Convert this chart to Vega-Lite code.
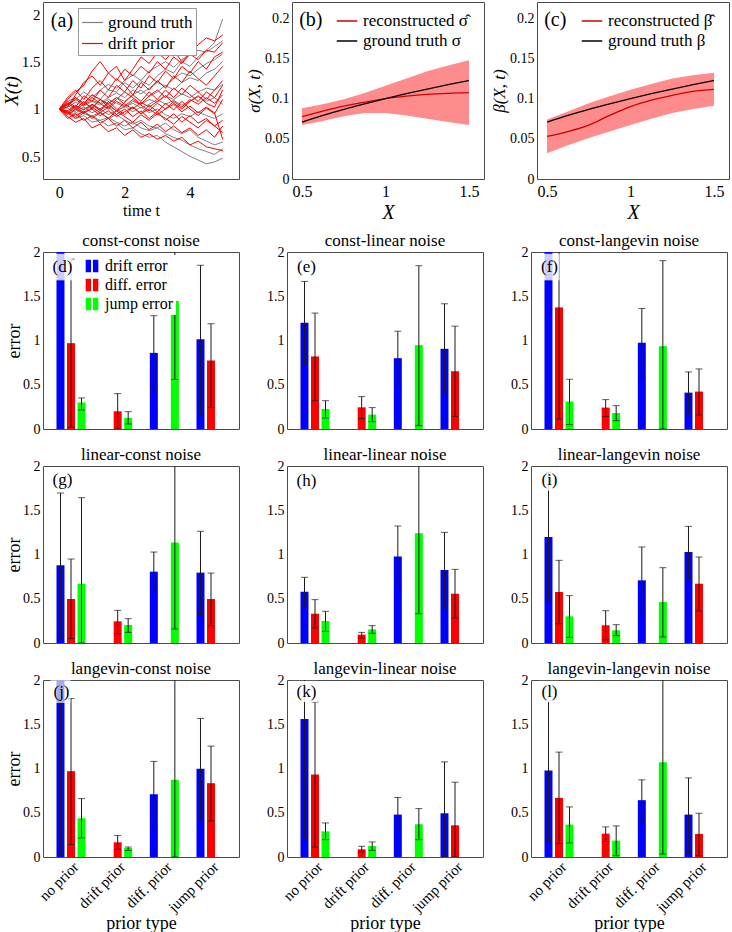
{
"$schema": "https://vega.github.io/schema/vega-lite/v6.json",
"padding": {"left": 1, "top": 1, "right": 0, "bottom": 0},
"datasets": {
"traj_gt": [
{"t":0,"g1":1,"g2":1,"g3":1,"g4":1,"g5":1,"g6":1,"g7":1,"g8":1,"g9":1,"g10":1},
{"t":0.25,"g1":1.08,"g2":0.96,"g3":1.04,"g4":0.97,"g5":1.05,"g6":0.95,"g7":1.02,"g8":0.98,"g9":1.06,"g10":1.01},
{"t":0.5,"g1":1.12,"g2":0.9,"g3":0.98,"g4":1.02,"g5":1.1,"g6":0.98,"g7":1.07,"g8":0.94,"g9":1.01,"g10":0.96},
{"t":0.75,"g1":1.05,"g2":0.93,"g3":1.06,"g4":0.95,"g5":1.18,"g6":1.02,"g7":1.03,"g8":0.97,"g9":1.04,"g10":1.0},
{"t":1,"g1":1.15,"g2":0.86,"g3":1.02,"g4":0.92,"g5":1.12,"g6":0.96,"g7":1.08,"g8":0.92,"g9":1.09,"g10":1.04},
{"t":1.25,"g1":1.1,"g2":0.88,"g3":1.1,"g4":0.97,"g5":1.2,"g6":1.0,"g7":1.04,"g8":0.88,"g9":1.06,"g10":0.99},
{"t":1.5,"g1":1.2,"g2":0.82,"g3":1.05,"g4":0.9,"g5":1.26,"g6":0.94,"g7":1.1,"g8":0.91,"g9":1.12,"g10":1.03},
{"t":1.75,"g1":1.18,"g2":0.85,"g3":1.12,"g4":0.94,"g5":1.22,"g6":0.98,"g7":1.06,"g8":0.86,"g9":1.17,"g10":0.98},
{"t":2,"g1":1.28,"g2":0.78,"g3":1.08,"g4":0.88,"g5":1.3,"g6":1.03,"g7":1.02,"g8":0.82,"g9":1.12,"g10":1.02},
{"t":2.25,"g1":1.22,"g2":0.8,"g3":1.15,"g4":0.84,"g5":1.36,"g6":0.97,"g7":1.08,"g8":0.86,"g9":1.2,"g10":1.06},
{"t":2.5,"g1":1.3,"g2":0.74,"g3":1.2,"g4":0.88,"g5":1.3,"g6":1.02,"g7":1.05,"g8":0.8,"g9":1.16,"g10":1.01},
{"t":2.75,"g1":1.25,"g2":0.7,"g3":1.13,"g4":0.82,"g5":1.4,"g6":0.96,"g7":1.1,"g8":0.77,"g9":1.22,"g10":1.05},
{"t":3,"g1":1.35,"g2":0.72,"g3":1.18,"g4":0.8,"g5":1.45,"g6":1.0,"g7":1.07,"g8":0.8,"g9":1.28,"g10":1.1},
{"t":3.25,"g1":1.42,"g2":0.65,"g3":1.25,"g4":0.85,"g5":1.5,"g6":0.94,"g7":1.14,"g8":0.74,"g9":1.24,"g10":1.05},
{"t":3.5,"g1":1.38,"g2":0.6,"g3":1.2,"g4":0.78,"g5":1.44,"g6":0.9,"g7":1.1,"g8":0.7,"g9":1.32,"g10":1.09},
{"t":3.75,"g1":1.5,"g2":0.55,"g3":1.28,"g4":0.74,"g5":1.52,"g6":0.95,"g7":1.16,"g8":0.67,"g9":1.38,"g10":1.04},
{"t":4,"g1":1.45,"g2":0.5,"g3":1.33,"g4":0.78,"g5":1.58,"g6":0.92,"g7":1.12,"g8":0.62,"g9":1.35,"g10":1.08},
{"t":4.25,"g1":1.55,"g2":0.46,"g3":1.3,"g4":0.7,"g5":1.62,"g6":0.97,"g7":1.18,"g8":0.58,"g9":1.42,"g10":1.13},
{"t":4.5,"g1":1.62,"g2":0.42,"g3":1.38,"g4":0.66,"g5":1.6,"g6":0.93,"g7":1.22,"g8":0.55,"g9":1.48,"g10":1.08},
{"t":4.75,"g1":1.7,"g2":0.44,"g3":1.42,"g4":0.62,"g5":1.66,"g6":0.9,"g7":1.2,"g8":0.52,"g9":1.52,"g10":1.12},
{"t":5,"g1":1.95,"g2":0.48,"g3":1.5,"g4":0.65,"g5":1.72,"g6":0.95,"g7":1.26,"g8":0.58,"g9":1.58,"g10":1.05}
],
"traj_dp": [
{"t":0,"r1":1,"r2":1,"r3":1,"r4":1,"r5":1,"r6":1,"r7":1,"r8":1,"r9":1,"r10":1,"r11":1,"r12":1,"r13":1,"r14":1},
{"t":0.25,"r1":1.1,"r2":0.92,"r3":1.08,"r4":0.95,"r5":1.05,"r6":0.9,"r7":1.12,"r8":0.97,"r9":1.04,"r10":0.94,"r11":1.06,"r12":1.02,"r13":0.98,"r14":0.96},
{"t":0.5,"r1":1.18,"r2":0.86,"r3":1.02,"r4":1.03,"r5":1.12,"r6":0.95,"r7":1.2,"r8":0.92,"r9":1.1,"r10":1.0,"r11":1.0,"r12":1.15,"r13":1.04,"r14":0.9},
{"t":0.75,"r1":1.25,"r2":0.9,"r3":1.14,"r4":0.96,"r5":1.06,"r6":0.88,"r7":1.1,"r8":0.98,"r9":1.04,"r10":1.08,"r11":0.95,"r12":1.28,"r13":0.99,"r14":0.96},
{"t":1,"r1":1.4,"r2":0.8,"r3":1.08,"r4":1.05,"r5":1.15,"r6":0.93,"r7":1.22,"r8":0.9,"r9":1.12,"r10":1.0,"r11":1.02,"r12":1.35,"r13":1.05,"r14":1.0},
{"t":1.25,"r1":1.5,"r2":0.84,"r3":1.2,"r4":0.98,"r5":1.1,"r6":0.85,"r7":1.3,"r8":0.96,"r9":1.06,"r10":1.1,"r11":0.96,"r12":1.25,"r13":1.0,"r14":0.93},
{"t":1.5,"r1":1.38,"r2":0.76,"r3":1.12,"r4":1.08,"r5":1.02,"r6":0.9,"r7":1.2,"r8":1.02,"r9":1.0,"r10":1.05,"r11":0.9,"r12":1.38,"r13":1.06,"r14":0.98},
{"t":1.75,"r1":1.45,"r2":0.8,"r3":1.25,"r4":1.0,"r5":1.1,"r6":0.82,"r7":1.32,"r8":0.94,"r9":1.08,"r10":0.98,"r11":0.98,"r12":1.3,"r13":1.12,"r14":0.92},
{"t":2,"r1":1.3,"r2":0.72,"r3":1.18,"r4":0.94,"r5":1.18,"r6":0.88,"r7":1.25,"r8":1.0,"r9":1.03,"r10":1.07,"r11":0.92,"r12":1.42,"r13":1.05,"r14":0.97},
{"t":2.25,"r1":1.42,"r2":0.78,"r3":1.3,"r4":1.02,"r5":1.12,"r6":0.8,"r7":1.15,"r8":0.92,"r9":1.1,"r10":1.15,"r11":0.86,"r12":1.35,"r13":1.0,"r14":1.02},
{"t":2.5,"r1":1.55,"r2":0.7,"r3":1.22,"r4":0.95,"r5":1.05,"r6":0.86,"r7":1.28,"r8":0.98,"r9":1.04,"r10":1.08,"r11":0.94,"r12":1.45,"r13":1.07,"r14":0.95},
{"t":2.75,"r1":1.48,"r2":0.74,"r3":1.35,"r4":1.04,"r5":1.14,"r6":0.78,"r7":1.2,"r8":0.9,"r9":0.98,"r10":1.18,"r11":0.88,"r12":1.38,"r13":1.02,"r14":1.0},
{"t":3,"r1":1.6,"r2":0.68,"r3":1.28,"r4":0.97,"r5":1.2,"r6":0.84,"r7":1.3,"r8":0.97,"r9":1.06,"r10":1.1,"r11":0.95,"r12":1.5,"r13":1.08,"r14":0.94},
{"t":3.25,"r1":1.52,"r2":0.72,"r3":1.4,"r4":1.06,"r5":1.12,"r6":0.76,"r7":1.22,"r8":0.88,"r9":1.0,"r10":1.2,"r11":0.9,"r12":1.42,"r13":1.14,"r14":1.0},
{"t":3.5,"r1":1.62,"r2":0.66,"r3":1.32,"r4":0.99,"r5":1.22,"r6":0.82,"r7":1.35,"r8":0.95,"r9":1.08,"r10":1.12,"r11":0.84,"r12":1.55,"r13":1.06,"r14":1.05},
{"t":3.75,"r1":1.5,"r2":0.7,"r3":1.45,"r4":1.08,"r5":1.15,"r6":0.75,"r7":1.28,"r8":0.86,"r9":1.02,"r10":1.22,"r11":0.92,"r12":1.48,"r13":1.0,"r14":0.97},
{"t":4,"r1":1.58,"r2":0.62,"r3":1.38,"r4":1.0,"r5":1.25,"r6":0.8,"r7":1.4,"r8":0.93,"r9":1.1,"r10":1.15,"r11":0.86,"r12":1.58,"r13":1.08,"r14":1.03},
{"t":4.25,"r1":1.68,"r2":0.66,"r3":1.5,"r4":0.93,"r5":1.18,"r6":0.72,"r7":1.32,"r8":0.85,"r9":1.05,"r10":1.08,"r11":0.8,"r12":1.52,"r13":1.14,"r14":0.96},
{"t":4.5,"r1":1.75,"r2":0.6,"r3":1.42,"r4":1.01,"r5":1.1,"r6":0.78,"r7":1.25,"r8":0.9,"r9":1.12,"r10":1.18,"r11":0.88,"r12":1.62,"r13":1.06,"r14":1.02},
{"t":4.75,"r1":1.72,"r2":0.58,"r3":1.55,"r4":0.95,"r5":1.2,"r6":0.7,"r7":1.35,"r8":0.82,"r9":1.06,"r10":1.12,"r11":0.82,"r12":1.6,"r13":1.02,"r14":0.96},
{"t":5,"r1":1.78,"r2":0.56,"r3":1.6,"r4":1.1,"r5":1.3,"r6":0.82,"r7":1.45,"r8":0.88,"r9":1.15,"r10":1.25,"r11":0.75,"r12":1.7,"r13":1.2,"r14":0.68}
],
"sig": [
{"X":0.5,"lo":0.067,"hi":0.088,"rec":0.0775,"gt":0.0707},
{"X":0.625,"lo":0.072,"hi":0.093,"rec":0.0845,"gt":0.0791},
{"X":0.75,"lo":0.078,"hi":0.099,"rec":0.0905,"gt":0.0866},
{"X":0.875,"lo":0.082,"hi":0.107,"rec":0.0955,"gt":0.0935},
{"X":1.0,"lo":0.082,"hi":0.116,"rec":0.1,"gt":0.1},
{"X":1.125,"lo":0.079,"hi":0.125,"rec":0.103,"gt":0.1061},
{"X":1.25,"lo":0.075,"hi":0.134,"rec":0.1052,"gt":0.1118},
{"X":1.375,"lo":0.071,"hi":0.141,"rec":0.1065,"gt":0.1173},
{"X":1.5,"lo":0.067,"hi":0.1475,"rec":0.1073,"gt":0.1225}
],
"beta": [
{"X":0.5,"lo":0.032,"hi":0.074,"rec":0.053,"gt":0.0707},
{"X":0.625,"lo":0.042,"hi":0.084,"rec":0.059,"gt":0.0791},
{"X":0.75,"lo":0.051,"hi":0.094,"rec":0.067,"gt":0.0866},
{"X":0.875,"lo":0.059,"hi":0.103,"rec":0.079,"gt":0.0935},
{"X":1.0,"lo":0.067,"hi":0.111,"rec":0.09,"gt":0.1},
{"X":1.125,"lo":0.075,"hi":0.118,"rec":0.098,"gt":0.1061},
{"X":1.25,"lo":0.082,"hi":0.125,"rec":0.104,"gt":0.1118},
{"X":1.375,"lo":0.087,"hi":0.129,"rec":0.109,"gt":0.1173},
{"X":1.5,"lo":0.091,"hi":0.132,"rec":0.1115,"gt":0.1225}
],
"bars": [
{"p":"d","prior":"no prior","err":"drift error","val":2.6},
{"p":"d","prior":"no prior","err":"diff. error","val":0.97,"lo":0.02,"hi":1.92},
{"p":"d","prior":"no prior","err":"jump error","val":0.3,"lo":0.215,"hi":0.351},
{"p":"d","prior":"drift prior","err":"drift error","val":0},
{"p":"d","prior":"drift prior","err":"diff. error","val":0.2,"lo":0.0,"hi":0.4},
{"p":"d","prior":"drift prior","err":"jump error","val":0.125,"lo":0.057,"hi":0.196},
{"p":"d","prior":"diff. prior","err":"drift error","val":0.86,"lo":0.43,"hi":1.28},
{"p":"d","prior":"diff. prior","err":"diff. error","val":0},
{"p":"d","prior":"diff. prior","err":"jump error","val":1.445,"lo":0.56,"hi":2.33},
{"p":"d","prior":"jump prior","err":"drift error","val":1.015,"lo":0.17,"hi":1.85},
{"p":"d","prior":"jump prior","err":"diff. error","val":0.774,"lo":0.245,"hi":1.19},
{"p":"d","prior":"jump prior","err":"jump error","val":0},
{"p":"e","prior":"no prior","err":"drift error","val":1.2,"lo":0.73,"hi":1.668},
{"p":"e","prior":"no prior","err":"diff. error","val":0.82,"lo":0.32,"hi":1.31},
{"p":"e","prior":"no prior","err":"jump error","val":0.226,"lo":0.125,"hi":0.32},
{"p":"e","prior":"drift prior","err":"drift error","val":0},
{"p":"e","prior":"drift prior","err":"diff. error","val":0.245,"lo":0.117,"hi":0.366},
{"p":"e","prior":"drift prior","err":"jump error","val":0.162,"lo":0.083,"hi":0.242},
{"p":"e","prior":"diff. prior","err":"drift error","val":0.8,"lo":0.494,"hi":1.105},
{"p":"e","prior":"diff. prior","err":"diff. error","val":0},
{"p":"e","prior":"diff. prior","err":"jump error","val":0.947,"lo":0.038,"hi":1.845},
{"p":"e","prior":"jump prior","err":"drift error","val":0.906,"lo":0.396,"hi":1.415},
{"p":"e","prior":"jump prior","err":"diff. error","val":0.653,"lo":0.143,"hi":1.162},
{"p":"e","prior":"jump prior","err":"jump error","val":0},
{"p":"f","prior":"no prior","err":"drift error","val":2.6},
{"p":"f","prior":"no prior","err":"diff. error","val":1.374,"lo":0.113,"hi":2.635},
{"p":"f","prior":"no prior","err":"jump error","val":0.31,"lo":0.049,"hi":0.562},
{"p":"f","prior":"drift prior","err":"drift error","val":0},
{"p":"f","prior":"drift prior","err":"diff. error","val":0.242,"lo":0.14,"hi":0.332},
{"p":"f","prior":"drift prior","err":"jump error","val":0.181,"lo":0.094,"hi":0.264},
{"p":"f","prior":"diff. prior","err":"drift error","val":0.974,"lo":0.581,"hi":1.362},
{"p":"f","prior":"diff. prior","err":"diff. error","val":0},
{"p":"f","prior":"diff. prior","err":"jump error","val":0.936,"lo":0.0,"hi":1.902},
{"p":"f","prior":"jump prior","err":"drift error","val":0.411,"lo":0.17,"hi":0.645},
{"p":"f","prior":"jump prior","err":"diff. error","val":0.423,"lo":0.158,"hi":0.679},
{"p":"f","prior":"jump prior","err":"jump error","val":0},
{"p":"g","prior":"no prior","err":"drift error","val":0.878,"lo":0.057,"hi":1.695},
{"p":"g","prior":"no prior","err":"diff. error","val":0.497,"lo":0.049,"hi":0.949},
{"p":"g","prior":"no prior","err":"jump error","val":0.67,"lo":0.0,"hi":1.642},
{"p":"g","prior":"drift prior","err":"drift error","val":0},
{"p":"g","prior":"drift prior","err":"diff. error","val":0.245,"lo":0.105,"hi":0.369},
{"p":"g","prior":"drift prior","err":"jump error","val":0.203,"lo":0.12,"hi":0.275},
{"p":"g","prior":"diff. prior","err":"drift error","val":0.806,"lo":0.58,"hi":1.028},
{"p":"g","prior":"diff. prior","err":"diff. error","val":0},
{"p":"g","prior":"diff. prior","err":"jump error","val":1.137,"lo":0.158,"hi":2.3},
{"p":"g","prior":"jump prior","err":"drift error","val":0.795,"lo":0.32,"hi":1.262},
{"p":"g","prior":"jump prior","err":"diff. error","val":0.497,"lo":0.196,"hi":0.79},
{"p":"g","prior":"jump prior","err":"jump error","val":0},
{"p":"h","prior":"no prior","err":"drift error","val":0.58,"lo":0.418,"hi":0.742},
{"p":"h","prior":"no prior","err":"diff. error","val":0.331,"lo":0.17,"hi":0.49},
{"p":"h","prior":"no prior","err":"jump error","val":0.249,"lo":0.132,"hi":0.358},
{"p":"h","prior":"drift prior","err":"drift error","val":0},
{"p":"h","prior":"drift prior","err":"diff. error","val":0.094,"lo":0.057,"hi":0.12},
{"p":"h","prior":"drift prior","err":"jump error","val":0.154,"lo":0.109,"hi":0.196},
{"p":"h","prior":"diff. prior","err":"drift error","val":0.976,"lo":0.629,"hi":1.322},
{"p":"h","prior":"diff. prior","err":"diff. error","val":0},
{"p":"h","prior":"diff. prior","err":"jump error","val":1.239,"lo":0.331,"hi":2.3},
{"p":"h","prior":"jump prior","err":"drift error","val":0.825,"lo":0.396,"hi":1.25},
{"p":"h","prior":"jump prior","err":"diff. error","val":0.557,"lo":0.283,"hi":0.832},
{"p":"h","prior":"jump prior","err":"jump error","val":0},
{"p":"i","prior":"no prior","err":"drift error","val":1.198,"lo":0.467,"hi":1.93},
{"p":"i","prior":"no prior","err":"diff. error","val":0.576,"lo":0.218,"hi":0.934},
{"p":"i","prior":"no prior","err":"jump error","val":0.301,"lo":0.064,"hi":0.535},
{"p":"i","prior":"drift prior","err":"drift error","val":0},
{"p":"i","prior":"drift prior","err":"diff. error","val":0.2,"lo":0.035,"hi":0.365},
{"p":"i","prior":"drift prior","err":"jump error","val":0.143,"lo":0.083,"hi":0.207},
{"p":"i","prior":"diff. prior","err":"drift error","val":0.708,"lo":0.331,"hi":1.085},
{"p":"i","prior":"diff. prior","err":"diff. error","val":0},
{"p":"i","prior":"diff. prior","err":"jump error","val":0.463,"lo":0.068,"hi":0.851},
{"p":"i","prior":"jump prior","err":"drift error","val":1.028,"lo":0.727,"hi":1.318},
{"p":"i","prior":"jump prior","err":"diff. error","val":0.67,"lo":0.362,"hi":0.972},
{"p":"i","prior":"jump prior","err":"jump error","val":0},
{"p":"j","prior":"no prior","err":"drift error","val":2.3,"lo":0.03,"hi":4.5},
{"p":"j","prior":"no prior","err":"diff. error","val":0.97,"lo":0.14,"hi":1.79},
{"p":"j","prior":"no prior","err":"jump error","val":0.438,"lo":0.215,"hi":0.66},
{"p":"j","prior":"drift prior","err":"drift error","val":0},
{"p":"j","prior":"drift prior","err":"diff. error","val":0.166,"lo":0.087,"hi":0.242},
{"p":"j","prior":"drift prior","err":"jump error","val":0.102,"lo":0.075,"hi":0.113},
{"p":"j","prior":"diff. prior","err":"drift error","val":0.709,"lo":0.332,"hi":1.08},
{"p":"j","prior":"diff. prior","err":"diff. error","val":0},
{"p":"j","prior":"diff. prior","err":"jump error","val":0.872,"lo":0.0,"hi":2.3},
{"p":"j","prior":"jump prior","err":"drift error","val":0.996,"lo":0.426,"hi":1.566},
{"p":"j","prior":"jump prior","err":"diff. error","val":0.834,"lo":0.408,"hi":1.253},
{"p":"j","prior":"jump prior","err":"jump error","val":0},
{"p":"k","prior":"no prior","err":"drift error","val":1.558,"lo":0.2,"hi":2.916},
{"p":"k","prior":"no prior","err":"diff. error","val":0.932,"lo":0.113,"hi":1.751},
{"p":"k","prior":"no prior","err":"jump error","val":0.29,"lo":0.196,"hi":0.385},
{"p":"k","prior":"drift prior","err":"drift error","val":0},
{"p":"k","prior":"drift prior","err":"diff. error","val":0.087,"lo":0.057,"hi":0.121},
{"p":"k","prior":"drift prior","err":"jump error","val":0.125,"lo":0.075,"hi":0.17},
{"p":"k","prior":"diff. prior","err":"drift error","val":0.479,"lo":0.287,"hi":0.672},
{"p":"k","prior":"diff. prior","err":"diff. error","val":0},
{"p":"k","prior":"diff. prior","err":"jump error","val":0.37,"lo":0.196,"hi":0.547},
{"p":"k","prior":"jump prior","err":"drift error","val":0.494,"lo":0.0,"hi":1.075},
{"p":"k","prior":"jump prior","err":"diff. error","val":0.358,"lo":0.0,"hi":0.845},
{"p":"k","prior":"jump prior","err":"jump error","val":0},
{"p":"l","prior":"no prior","err":"drift error","val":0.977,"lo":0.185,"hi":1.769},
{"p":"l","prior":"no prior","err":"diff. error","val":0.668,"lo":0.151,"hi":1.185},
{"p":"l","prior":"no prior","err":"jump error","val":0.366,"lo":0.158,"hi":0.566},
{"p":"l","prior":"drift prior","err":"drift error","val":0},
{"p":"l","prior":"drift prior","err":"diff. error","val":0.264,"lo":0.174,"hi":0.34},
{"p":"l","prior":"drift prior","err":"jump error","val":0.185,"lo":0.015,"hi":0.351},
{"p":"l","prior":"diff. prior","err":"drift error","val":0.642,"lo":0.408,"hi":0.872},
{"p":"l","prior":"diff. prior","err":"diff. error","val":0},
{"p":"l","prior":"diff. prior","err":"jump error","val":1.072,"lo":0.034,"hi":2.3},
{"p":"l","prior":"jump prior","err":"drift error","val":0.479,"lo":0.049,"hi":0.894},
{"p":"l","prior":"jump prior","err":"diff. error","val":0.26,"lo":0.015,"hi":0.494},
{"p":"l","prior":"jump prior","err":"jump error","val":0}
]
},
"vconcat": [
{
"hconcat": [
{
"width": 196, "height": 177,
"layer": [
{"data": {"name": "traj_gt"},
 "transform": [{"fold": ["g1","g2","g3","g4","g5","g6","g7","g8","g9","g10"], "as": ["path","x"]}],
 "mark": {"type": "line", "strokeWidth": 1, "clip": true},
 "encoding": {
  "x": {"field": "t", "type": "quantitative", "scale": {"domain": [-0.5, 5.5], "nice": false}, "axis": {"values": [0,2,4], "title": "time t", "labelFontSize": 16, "titleFontSize": 16, "labelPadding": 5, "titlePadding": 2}},
  "y": {"field": "x", "type": "quantitative", "scale": {"domain": [0.26, 2.13], "nice": false, "zero": false}, "axis": {"values": [0.5,1,1.5,2], "format": "~g", "title": "X(t)", "titleFontStyle": "italic", "titleFontSize": 19, "labelFontSize": 15, "titlePadding": 0}},
  "detail": {"field": "path"},
  "color": {"datum": "ground truth", "scale": {"domain": ["ground truth","drift prior"], "range": ["#808080","#ff0000"]},
   "legend": {"orient": "none", "legendX": 35, "legendY": 6, "title": null, "symbolType": "stroke", "symbolSize": 440, "symbolStrokeWidth": 1.2, "labelFontSize": 17, "fillColor": "white", "strokeColor": "#999999", "padding": 3, "rowPadding": 1, "labelOffset": 4}}
 }},
{"data": {"name": "traj_dp"},
 "transform": [{"fold": ["r1","r2","r3","r4","r5","r6","r7","r8","r9","r10","r11","r12","r13","r14"], "as": ["path","x"]}],
 "mark": {"type": "line", "strokeWidth": 1, "clip": true},
 "encoding": {
  "x": {"field": "t", "type": "quantitative"},
  "y": {"field": "x", "type": "quantitative"},
  "detail": {"field": "path"},
  "color": {"datum": "drift prior"}
 }},
{"data": {"values": [{}]},
 "mark": {"type": "text", "align": "left", "baseline": "middle", "fontSize": 20},
 "encoding": {"x": {"datum": -0.26}, "y": {"datum": 1.93}, "text": {"value": "(a)"}}}
]
},
{
"width": 192, "height": 177,
"data": {"name": "sig"},
"layer": [
{"mark": {"type": "area", "color": "#ff8c8c", "opacity": 1},
 "encoding": {
  "x": {"field": "X", "type": "quantitative", "scale": {"domain": [0.44, 1.59], "nice": false, "zero": false}, "axis": {"values": [0.5,1,1.5], "format": "~g", "title": "X", "titleFontStyle": "italic", "titleFontSize": 20, "labelFontSize": 16, "labelPadding": 4, "titlePadding": 3}},
  "y": {"field": "lo", "type": "quantitative", "scale": {"domain": [0, 0.22], "nice": false}, "axis": {"values": [0,0.05,0.1,0.15,0.2], "format": "~g", "title": "σ(X, t)", "titleFontStyle": "italic", "titleFontSize": 17, "labelFontSize": 14, "titlePadding": 1}},
  "y2": {"field": "hi"}
 }},
{"mark": {"type": "line", "strokeWidth": 1.3, "interpolate": "monotone"},
 "encoding": {
  "x": {"field": "X", "type": "quantitative"},
  "y": {"field": "rec", "type": "quantitative"},
  "color": {"datum": "reconstructed σ̂", "scale": {"domain": ["reconstructed σ̂","ground truth σ"], "range": ["#cc0000","#000000"]},
   "legend": {"orient": "none", "legendX": 44, "legendY": 8, "title": null, "symbolType": "stroke", "symbolSize": 420, "symbolStrokeWidth": 1.5, "labelFontSize": 17, "rowPadding": 1, "labelOffset": 5}}
 }},
{"mark": {"type": "line", "strokeWidth": 1.3, "interpolate": "monotone"},
 "encoding": {
  "x": {"field": "X", "type": "quantitative"},
  "y": {"field": "gt", "type": "quantitative"},
  "color": {"datum": "ground truth σ"}
 }},
{"data": {"values": [{}]},
 "mark": {"type": "text", "align": "left", "baseline": "middle", "fontSize": 20},
 "encoding": {"x": {"datum": 0.483}, "y": {"datum": 0.198}, "text": {"value": "(b)"}}}
]
},
{
"width": 192, "height": 177,
"data": {"name": "beta"},
"layer": [
{"mark": {"type": "area", "color": "#ff8c8c", "opacity": 1},
 "encoding": {
  "x": {"field": "X", "type": "quantitative", "scale": {"domain": [0.44, 1.59], "nice": false, "zero": false}, "axis": {"values": [0.5,1,1.5], "format": "~g", "title": "X", "titleFontStyle": "italic", "titleFontSize": 20, "labelFontSize": 16, "labelPadding": 4, "titlePadding": 3}},
  "y": {"field": "lo", "type": "quantitative", "scale": {"domain": [0, 0.22], "nice": false}, "axis": {"values": [0,0.05,0.1,0.15,0.2], "format": "~g", "title": "β(X, t)", "titleFontStyle": "italic", "titleFontSize": 17, "labelFontSize": 14, "titlePadding": 1}},
  "y2": {"field": "hi"}
 }},
{"mark": {"type": "line", "strokeWidth": 1.3, "interpolate": "monotone"},
 "encoding": {
  "x": {"field": "X", "type": "quantitative"},
  "y": {"field": "rec", "type": "quantitative"},
  "color": {"datum": "reconstructed β̂", "scale": {"domain": ["reconstructed β̂","ground truth β"], "range": ["#cc0000","#000000"]},
   "legend": {"orient": "none", "legendX": 44, "legendY": 8, "title": null, "symbolType": "stroke", "symbolSize": 420, "symbolStrokeWidth": 1.5, "labelFontSize": 17, "rowPadding": 1, "labelOffset": 5}}
 }},
{"mark": {"type": "line", "strokeWidth": 1.3, "interpolate": "monotone"},
 "encoding": {
  "x": {"field": "X", "type": "quantitative"},
  "y": {"field": "gt", "type": "quantitative"},
  "color": {"datum": "ground truth β"}
 }},
{"data": {"values": [{}]},
 "mark": {"type": "text", "align": "left", "baseline": "middle", "fontSize": 20},
 "encoding": {"x": {"datum": 0.483}, "y": {"datum": 0.198}, "text": {"value": "(c)"}}}
]
}
],
"spacing": 5,
"resolve": {"scale": {"color": "independent"}, "legend": {"color": "independent"}}
},
{
"hconcat": [
{
"width": 196, "height": 177, "title": "const-const noise",
"data": {"name": "bars"}, "transform": [{"filter": "datum.p == 'd'"}],
"encoding": {"x": {"field": "prior", "type": "nominal", "scale": {"domain": ["no prior","drift prior","diff. prior","jump prior"], "paddingInner": 0, "paddingOuter": 0.1}, "axis": null}},
"layer": [
{"mark": {"type": "bar", "clip": true},
 "encoding": {
  "xOffset": {"field": "err", "type": "nominal", "scale": {"domain": ["drift error","diff. error","jump error"], "paddingInner": 0.24, "paddingOuter": 0.84}},
  "y": {"field": "val", "type": "quantitative", "scale": {"domain": [0, 2], "nice": false}, "axis": {"values": [0,0.5,1,1.5,2], "format": "~g", "title": "error", "titleFontSize": 18, "minExtent": 20, "maxExtent": 20, "titlePadding": 0}},
  "color": {"field": "err", "type": "nominal", "scale": {"domain": ["drift error","diff. error","jump error"], "range": ["#0000ff","#ff0000","#00ff00"]},
   "legend": {"orient": "none", "legendX": 38, "legendY": 3, "title": null, "symbolType": "M-1,-1H-0.15V1H-1Z M0.15,-1H1V1H0.15Z", "symbolSize": 160, "labelFontSize": 16, "rowPadding": 3, "fillColor": "white", "padding": 3, "labelOffset": 5}}
 }},
{"mark": {"type": "rule", "clip": true, "color": "#1a1a1a", "strokeWidth": 1},
 "encoding": {"xOffset": {"field": "err", "type": "nominal"}, "y": {"field": "lo", "type": "quantitative"}, "y2": {"field": "hi"}}},
{"mark": {"type": "tick", "clip": true, "color": "#1a1a1a", "thickness": 1, "size": 7},
 "encoding": {"xOffset": {"field": "err", "type": "nominal"}, "y": {"field": "lo", "type": "quantitative"}}},
{"mark": {"type": "tick", "clip": true, "color": "#1a1a1a", "thickness": 1, "size": 7},
 "encoding": {"xOffset": {"field": "err", "type": "nominal"}, "y": {"field": "hi", "type": "quantitative"}}},
{"data": {"values": [{}]}, "transform": [],
 "mark": {"type": "bar", "color": "white", "opacity": 0.8, "width": 24},
 "encoding": {"x": {"datum": "no prior"}, "xOffset": {"datum": "drift error"}, "y": {"datum": 1.68}, "y2": {"datum": 1.98}}},
{"data": {"values": [{}]}, "transform": [],
 "mark": {"type": "text", "baseline": "middle", "fontSize": 17, "dx": 2},
 "encoding": {"x": {"datum": "no prior"}, "xOffset": {"datum": "drift error"}, "y": {"datum": 1.83}, "text": {"value": "(d)"}}}
]
},
{
"width": 196, "height": 177, "title": "const-linear noise",
"data": {"name": "bars"}, "transform": [{"filter": "datum.p == 'e'"}],
"encoding": {"x": {"field": "prior", "type": "nominal", "scale": {"domain": ["no prior","drift prior","diff. prior","jump prior"], "paddingInner": 0, "paddingOuter": 0.1}, "axis": null}},
"layer": [
{"mark": {"type": "bar", "clip": true},
 "encoding": {
  "xOffset": {"field": "err", "type": "nominal", "scale": {"domain": ["drift error","diff. error","jump error"], "paddingInner": 0.24, "paddingOuter": 0.84}},
  "y": {"field": "val", "type": "quantitative", "scale": {"domain": [0, 2], "nice": false}, "axis": {"values": [0,0.5,1,1.5,2], "format": "~g", "title": null, "minExtent": 20, "maxExtent": 20}},
  "color": {"field": "err", "type": "nominal", "scale": {"domain": ["drift error","diff. error","jump error"], "range": ["#0000ff","#ff0000","#00ff00"]}, "legend": null}
 }},
{"mark": {"type": "rule", "clip": true, "color": "#1a1a1a", "strokeWidth": 1},
 "encoding": {"xOffset": {"field": "err", "type": "nominal"}, "y": {"field": "lo", "type": "quantitative"}, "y2": {"field": "hi"}}},
{"mark": {"type": "tick", "clip": true, "color": "#1a1a1a", "thickness": 1, "size": 7},
 "encoding": {"xOffset": {"field": "err", "type": "nominal"}, "y": {"field": "lo", "type": "quantitative"}}},
{"mark": {"type": "tick", "clip": true, "color": "#1a1a1a", "thickness": 1, "size": 7},
 "encoding": {"xOffset": {"field": "err", "type": "nominal"}, "y": {"field": "hi", "type": "quantitative"}}},
{"data": {"values": [{}]}, "transform": [],
 "mark": {"type": "bar", "color": "white", "opacity": 0.8, "width": 24},
 "encoding": {"x": {"datum": "no prior"}, "xOffset": {"datum": "drift error"}, "y": {"datum": 1.68}, "y2": {"datum": 1.98}}},
{"data": {"values": [{}]}, "transform": [],
 "mark": {"type": "text", "baseline": "middle", "fontSize": 17, "dx": 2},
 "encoding": {"x": {"datum": "no prior"}, "xOffset": {"datum": "drift error"}, "y": {"datum": 1.83}, "text": {"value": "(e)"}}}
]
},
{
"width": 196, "height": 177, "title": "const-langevin noise",
"data": {"name": "bars"}, "transform": [{"filter": "datum.p == 'f'"}],
"encoding": {"x": {"field": "prior", "type": "nominal", "scale": {"domain": ["no prior","drift prior","diff. prior","jump prior"], "paddingInner": 0, "paddingOuter": 0.1}, "axis": null}},
"layer": [
{"mark": {"type": "bar", "clip": true},
 "encoding": {
  "xOffset": {"field": "err", "type": "nominal", "scale": {"domain": ["drift error","diff. error","jump error"], "paddingInner": 0.24, "paddingOuter": 0.84}},
  "y": {"field": "val", "type": "quantitative", "scale": {"domain": [0, 2], "nice": false}, "axis": {"values": [0,0.5,1,1.5,2], "format": "~g", "title": null, "minExtent": 20, "maxExtent": 20}},
  "color": {"field": "err", "type": "nominal", "scale": {"domain": ["drift error","diff. error","jump error"], "range": ["#0000ff","#ff0000","#00ff00"]}, "legend": null}
 }},
{"mark": {"type": "rule", "clip": true, "color": "#1a1a1a", "strokeWidth": 1},
 "encoding": {"xOffset": {"field": "err", "type": "nominal"}, "y": {"field": "lo", "type": "quantitative"}, "y2": {"field": "hi"}}},
{"mark": {"type": "tick", "clip": true, "color": "#1a1a1a", "thickness": 1, "size": 7},
 "encoding": {"xOffset": {"field": "err", "type": "nominal"}, "y": {"field": "lo", "type": "quantitative"}}},
{"mark": {"type": "tick", "clip": true, "color": "#1a1a1a", "thickness": 1, "size": 7},
 "encoding": {"xOffset": {"field": "err", "type": "nominal"}, "y": {"field": "hi", "type": "quantitative"}}},
{"data": {"values": [{}]}, "transform": [],
 "mark": {"type": "bar", "color": "white", "opacity": 0.8, "width": 22},
 "encoding": {"x": {"datum": "no prior"}, "xOffset": {"datum": "drift error"}, "y": {"datum": 1.68}, "y2": {"datum": 1.98}}},
{"data": {"values": [{}]}, "transform": [],
 "mark": {"type": "text", "baseline": "middle", "fontSize": 17, "dx": 1},
 "encoding": {"x": {"datum": "no prior"}, "xOffset": {"datum": "drift error"}, "y": {"datum": 1.83}, "text": {"value": "(f)"}}}
]
}
],
"spacing": 26,
"resolve": {"scale": {"color": "independent"}, "legend": {"color": "independent"}}
},
{
"hconcat": [
{
"width": 196, "height": 177, "title": "linear-const noise",
"data": {"name": "bars"}, "transform": [{"filter": "datum.p == 'g'"}],
"encoding": {"x": {"field": "prior", "type": "nominal", "scale": {"domain": ["no prior","drift prior","diff. prior","jump prior"], "paddingInner": 0, "paddingOuter": 0.1}, "axis": null}},
"layer": [
{"mark": {"type": "bar", "clip": true},
 "encoding": {
  "xOffset": {"field": "err", "type": "nominal", "scale": {"domain": ["drift error","diff. error","jump error"], "paddingInner": 0.24, "paddingOuter": 0.84}},
  "y": {"field": "val", "type": "quantitative", "scale": {"domain": [0, 2], "nice": false}, "axis": {"values": [0,0.5,1,1.5,2], "format": "~g", "title": "error", "titleFontSize": 18, "minExtent": 20, "maxExtent": 20, "titlePadding": 0}},
  "color": {"field": "err", "type": "nominal", "scale": {"domain": ["drift error","diff. error","jump error"], "range": ["#0000ff","#ff0000","#00ff00"]}, "legend": null}
 }},
{"mark": {"type": "rule", "clip": true, "color": "#1a1a1a", "strokeWidth": 1},
 "encoding": {"xOffset": {"field": "err", "type": "nominal"}, "y": {"field": "lo", "type": "quantitative"}, "y2": {"field": "hi"}}},
{"mark": {"type": "tick", "clip": true, "color": "#1a1a1a", "thickness": 1, "size": 7},
 "encoding": {"xOffset": {"field": "err", "type": "nominal"}, "y": {"field": "lo", "type": "quantitative"}}},
{"mark": {"type": "tick", "clip": true, "color": "#1a1a1a", "thickness": 1, "size": 7},
 "encoding": {"xOffset": {"field": "err", "type": "nominal"}, "y": {"field": "hi", "type": "quantitative"}}},
{"data": {"values": [{}]}, "transform": [],
 "mark": {"type": "bar", "color": "white", "opacity": 0.8, "width": 22},
 "encoding": {"x": {"datum": "no prior"}, "xOffset": {"datum": "drift error"}, "y": {"datum": 1.71}, "y2": {"datum": 1.98}}},
{"data": {"values": [{}]}, "transform": [],
 "mark": {"type": "text", "baseline": "middle", "fontSize": 17, "dx": 2},
 "encoding": {"x": {"datum": "no prior"}, "xOffset": {"datum": "drift error"}, "y": {"datum": 1.84}, "text": {"value": "(g)"}}}
]
},
{
"width": 196, "height": 177, "title": "linear-linear noise",
"data": {"name": "bars"}, "transform": [{"filter": "datum.p == 'h'"}],
"encoding": {"x": {"field": "prior", "type": "nominal", "scale": {"domain": ["no prior","drift prior","diff. prior","jump prior"], "paddingInner": 0, "paddingOuter": 0.1}, "axis": null}},
"layer": [
{"mark": {"type": "bar", "clip": true},
 "encoding": {
  "xOffset": {"field": "err", "type": "nominal", "scale": {"domain": ["drift error","diff. error","jump error"], "paddingInner": 0.24, "paddingOuter": 0.84}},
  "y": {"field": "val", "type": "quantitative", "scale": {"domain": [0, 2], "nice": false}, "axis": {"values": [0,0.5,1,1.5,2], "format": "~g", "title": null, "minExtent": 20, "maxExtent": 20}},
  "color": {"field": "err", "type": "nominal", "scale": {"domain": ["drift error","diff. error","jump error"], "range": ["#0000ff","#ff0000","#00ff00"]}, "legend": null}
 }},
{"mark": {"type": "rule", "clip": true, "color": "#1a1a1a", "strokeWidth": 1},
 "encoding": {"xOffset": {"field": "err", "type": "nominal"}, "y": {"field": "lo", "type": "quantitative"}, "y2": {"field": "hi"}}},
{"mark": {"type": "tick", "clip": true, "color": "#1a1a1a", "thickness": 1, "size": 7},
 "encoding": {"xOffset": {"field": "err", "type": "nominal"}, "y": {"field": "lo", "type": "quantitative"}}},
{"mark": {"type": "tick", "clip": true, "color": "#1a1a1a", "thickness": 1, "size": 7},
 "encoding": {"xOffset": {"field": "err", "type": "nominal"}, "y": {"field": "hi", "type": "quantitative"}}},
{"data": {"values": [{}]}, "transform": [],
 "mark": {"type": "text", "baseline": "middle", "fontSize": 17, "dx": 2},
 "encoding": {"x": {"datum": "no prior"}, "xOffset": {"datum": "drift error"}, "y": {"datum": 1.83}, "text": {"value": "(h)"}}}
]
},
{
"width": 196, "height": 177, "title": "linear-langevin noise",
"data": {"name": "bars"}, "transform": [{"filter": "datum.p == 'i'"}],
"encoding": {"x": {"field": "prior", "type": "nominal", "scale": {"domain": ["no prior","drift prior","diff. prior","jump prior"], "paddingInner": 0, "paddingOuter": 0.1}, "axis": null}},
"layer": [
{"mark": {"type": "bar", "clip": true},
 "encoding": {
  "xOffset": {"field": "err", "type": "nominal", "scale": {"domain": ["drift error","diff. error","jump error"], "paddingInner": 0.24, "paddingOuter": 0.84}},
  "y": {"field": "val", "type": "quantitative", "scale": {"domain": [0, 2], "nice": false}, "axis": {"values": [0,0.5,1,1.5,2], "format": "~g", "title": null, "minExtent": 20, "maxExtent": 20}},
  "color": {"field": "err", "type": "nominal", "scale": {"domain": ["drift error","diff. error","jump error"], "range": ["#0000ff","#ff0000","#00ff00"]}, "legend": null}
 }},
{"mark": {"type": "rule", "clip": true, "color": "#1a1a1a", "strokeWidth": 1},
 "encoding": {"xOffset": {"field": "err", "type": "nominal"}, "y": {"field": "lo", "type": "quantitative"}, "y2": {"field": "hi"}}},
{"mark": {"type": "tick", "clip": true, "color": "#1a1a1a", "thickness": 1, "size": 7},
 "encoding": {"xOffset": {"field": "err", "type": "nominal"}, "y": {"field": "lo", "type": "quantitative"}}},
{"mark": {"type": "tick", "clip": true, "color": "#1a1a1a", "thickness": 1, "size": 7},
 "encoding": {"xOffset": {"field": "err", "type": "nominal"}, "y": {"field": "hi", "type": "quantitative"}}},
{"data": {"values": [{}]}, "transform": [],
 "mark": {"type": "bar", "color": "white", "opacity": 0.8, "width": 20},
 "encoding": {"x": {"datum": "no prior"}, "xOffset": {"datum": "drift error"}, "y": {"datum": 1.72}, "y2": {"datum": 1.98}}},
{"data": {"values": [{}]}, "transform": [],
 "mark": {"type": "text", "baseline": "middle", "fontSize": 17, "dx": 1},
 "encoding": {"x": {"datum": "no prior"}, "xOffset": {"datum": "drift error"}, "y": {"datum": 1.84}, "text": {"value": "(i)"}}}
]
}
],
"spacing": 26,
"resolve": {"scale": {"color": "independent"}, "legend": {"color": "independent"}}
},
{
"hconcat": [
{
"width": 196, "height": 177, "title": "langevin-const noise",
"data": {"name": "bars"}, "transform": [{"filter": "datum.p == 'j'"}],
"encoding": {"x": {"field": "prior", "type": "nominal", "scale": {"domain": ["no prior","drift prior","diff. prior","jump prior"], "paddingInner": 0, "paddingOuter": 0.1}, "axis": {"title": "prior type", "labelAngle": -45, "labelFontSize": 15, "titleFontSize": 18, "labelPadding": 2, "titlePadding": 0}}},
"layer": [
{"mark": {"type": "bar", "clip": true},
 "encoding": {
  "xOffset": {"field": "err", "type": "nominal", "scale": {"domain": ["drift error","diff. error","jump error"], "paddingInner": 0.24, "paddingOuter": 0.84}},
  "y": {"field": "val", "type": "quantitative", "scale": {"domain": [0, 2], "nice": false}, "axis": {"values": [0,0.5,1,1.5,2], "format": "~g", "title": "error", "titleFontSize": 18, "minExtent": 20, "maxExtent": 20, "titlePadding": 0}},
  "color": {"field": "err", "type": "nominal", "scale": {"domain": ["drift error","diff. error","jump error"], "range": ["#0000ff","#ff0000","#00ff00"]}, "legend": null}
 }},
{"mark": {"type": "rule", "clip": true, "color": "#1a1a1a", "strokeWidth": 1},
 "encoding": {"xOffset": {"field": "err", "type": "nominal"}, "y": {"field": "lo", "type": "quantitative"}, "y2": {"field": "hi"}}},
{"mark": {"type": "tick", "clip": true, "color": "#1a1a1a", "thickness": 1, "size": 7},
 "encoding": {"xOffset": {"field": "err", "type": "nominal"}, "y": {"field": "lo", "type": "quantitative"}}},
{"mark": {"type": "tick", "clip": true, "color": "#1a1a1a", "thickness": 1, "size": 7},
 "encoding": {"xOffset": {"field": "err", "type": "nominal"}, "y": {"field": "hi", "type": "quantitative"}}},
{"data": {"values": [{}]}, "transform": [],
 "mark": {"type": "bar", "color": "white", "opacity": 0.65, "width": 20},
 "encoding": {"x": {"datum": "no prior"}, "xOffset": {"datum": "drift error"}, "y": {"datum": 1.74}, "y2": {"datum": 2}}},
{"data": {"values": [{}]}, "transform": [],
 "mark": {"type": "text", "baseline": "middle", "fontSize": 17, "dx": 1},
 "encoding": {"x": {"datum": "no prior"}, "xOffset": {"datum": "drift error"}, "y": {"datum": 1.86}, "text": {"value": "(j)"}}}
]
},
{
"width": 196, "height": 177, "title": "langevin-linear noise",
"data": {"name": "bars"}, "transform": [{"filter": "datum.p == 'k'"}],
"encoding": {"x": {"field": "prior", "type": "nominal", "scale": {"domain": ["no prior","drift prior","diff. prior","jump prior"], "paddingInner": 0, "paddingOuter": 0.1}, "axis": {"title": "prior type", "labelAngle": -45, "labelFontSize": 15, "titleFontSize": 18, "labelPadding": 2, "titlePadding": 0}}},
"layer": [
{"mark": {"type": "bar", "clip": true},
 "encoding": {
  "xOffset": {"field": "err", "type": "nominal", "scale": {"domain": ["drift error","diff. error","jump error"], "paddingInner": 0.24, "paddingOuter": 0.84}},
  "y": {"field": "val", "type": "quantitative", "scale": {"domain": [0, 2], "nice": false}, "axis": {"values": [0,0.5,1,1.5,2], "format": "~g", "title": null, "minExtent": 20, "maxExtent": 20}},
  "color": {"field": "err", "type": "nominal", "scale": {"domain": ["drift error","diff. error","jump error"], "range": ["#0000ff","#ff0000","#00ff00"]}, "legend": null}
 }},
{"mark": {"type": "rule", "clip": true, "color": "#1a1a1a", "strokeWidth": 1},
 "encoding": {"xOffset": {"field": "err", "type": "nominal"}, "y": {"field": "lo", "type": "quantitative"}, "y2": {"field": "hi"}}},
{"mark": {"type": "tick", "clip": true, "color": "#1a1a1a", "thickness": 1, "size": 7},
 "encoding": {"xOffset": {"field": "err", "type": "nominal"}, "y": {"field": "lo", "type": "quantitative"}}},
{"mark": {"type": "tick", "clip": true, "color": "#1a1a1a", "thickness": 1, "size": 7},
 "encoding": {"xOffset": {"field": "err", "type": "nominal"}, "y": {"field": "hi", "type": "quantitative"}}},
{"data": {"values": [{}]}, "transform": [],
 "mark": {"type": "bar", "color": "white", "opacity": 0.9, "width": 26},
 "encoding": {"x": {"datum": "no prior"}, "xOffset": {"datum": "drift error"}, "y": {"datum": 1.75}, "y2": {"datum": 1.99}}},
{"data": {"values": [{}]}, "transform": [],
 "mark": {"type": "text", "baseline": "middle", "fontSize": 17, "dx": 2},
 "encoding": {"x": {"datum": "no prior"}, "xOffset": {"datum": "drift error"}, "y": {"datum": 1.86}, "text": {"value": "(k)"}}}
]
},
{
"width": 196, "height": 177, "title": "langevin-langevin noise",
"data": {"name": "bars"}, "transform": [{"filter": "datum.p == 'l'"}],
"encoding": {"x": {"field": "prior", "type": "nominal", "scale": {"domain": ["no prior","drift prior","diff. prior","jump prior"], "paddingInner": 0, "paddingOuter": 0.1}, "axis": {"title": "prior type", "labelAngle": -45, "labelFontSize": 15, "titleFontSize": 18, "labelPadding": 2, "titlePadding": 0}}},
"layer": [
{"mark": {"type": "bar", "clip": true},
 "encoding": {
  "xOffset": {"field": "err", "type": "nominal", "scale": {"domain": ["drift error","diff. error","jump error"], "paddingInner": 0.24, "paddingOuter": 0.84}},
  "y": {"field": "val", "type": "quantitative", "scale": {"domain": [0, 2], "nice": false}, "axis": {"values": [0,0.5,1,1.5,2], "format": "~g", "title": null, "minExtent": 20, "maxExtent": 20}},
  "color": {"field": "err", "type": "nominal", "scale": {"domain": ["drift error","diff. error","jump error"], "range": ["#0000ff","#ff0000","#00ff00"]}, "legend": null}
 }},
{"mark": {"type": "rule", "clip": true, "color": "#1a1a1a", "strokeWidth": 1},
 "encoding": {"xOffset": {"field": "err", "type": "nominal"}, "y": {"field": "lo", "type": "quantitative"}, "y2": {"field": "hi"}}},
{"mark": {"type": "tick", "clip": true, "color": "#1a1a1a", "thickness": 1, "size": 7},
 "encoding": {"xOffset": {"field": "err", "type": "nominal"}, "y": {"field": "lo", "type": "quantitative"}}},
{"mark": {"type": "tick", "clip": true, "color": "#1a1a1a", "thickness": 1, "size": 7},
 "encoding": {"xOffset": {"field": "err", "type": "nominal"}, "y": {"field": "hi", "type": "quantitative"}}},
{"data": {"values": [{}]}, "transform": [],
 "mark": {"type": "bar", "color": "white", "opacity": 0.9, "width": 20},
 "encoding": {"x": {"datum": "no prior"}, "xOffset": {"datum": "drift error"}, "y": {"datum": 1.75}, "y2": {"datum": 1.99}}},
{"data": {"values": [{}]}, "transform": [],
 "mark": {"type": "text", "baseline": "middle", "fontSize": 17, "dx": 1},
 "encoding": {"x": {"datum": "no prior"}, "xOffset": {"datum": "drift error"}, "y": {"datum": 1.86}, "text": {"value": "(l)"}}}
]
}
],
"spacing": 26,
"resolve": {"scale": {"color": "independent"}, "legend": {"color": "independent"}}
}
],
"spacing": 8,
"resolve": {"scale": {"color": "independent"}, "legend": {"color": "independent"}},
"config": {
 "font": "Liberation Serif",
 "view": {"stroke": "#4a4a4a", "strokeWidth": 1},
 "axis": {"grid": false, "domain": false, "ticks": false, "labelColor": "#000000", "titleColor": "#000000", "titleFontWeight": "normal", "labelFontSize": 14, "titleFontSize": 19, "labelPadding": 3},
 "title": {"fontSize": 17, "fontWeight": "normal", "offset": -5, "color": "#000000"},
 "legend": {"labelFontSize": 16, "labelColor": "#000000"}
}
}
